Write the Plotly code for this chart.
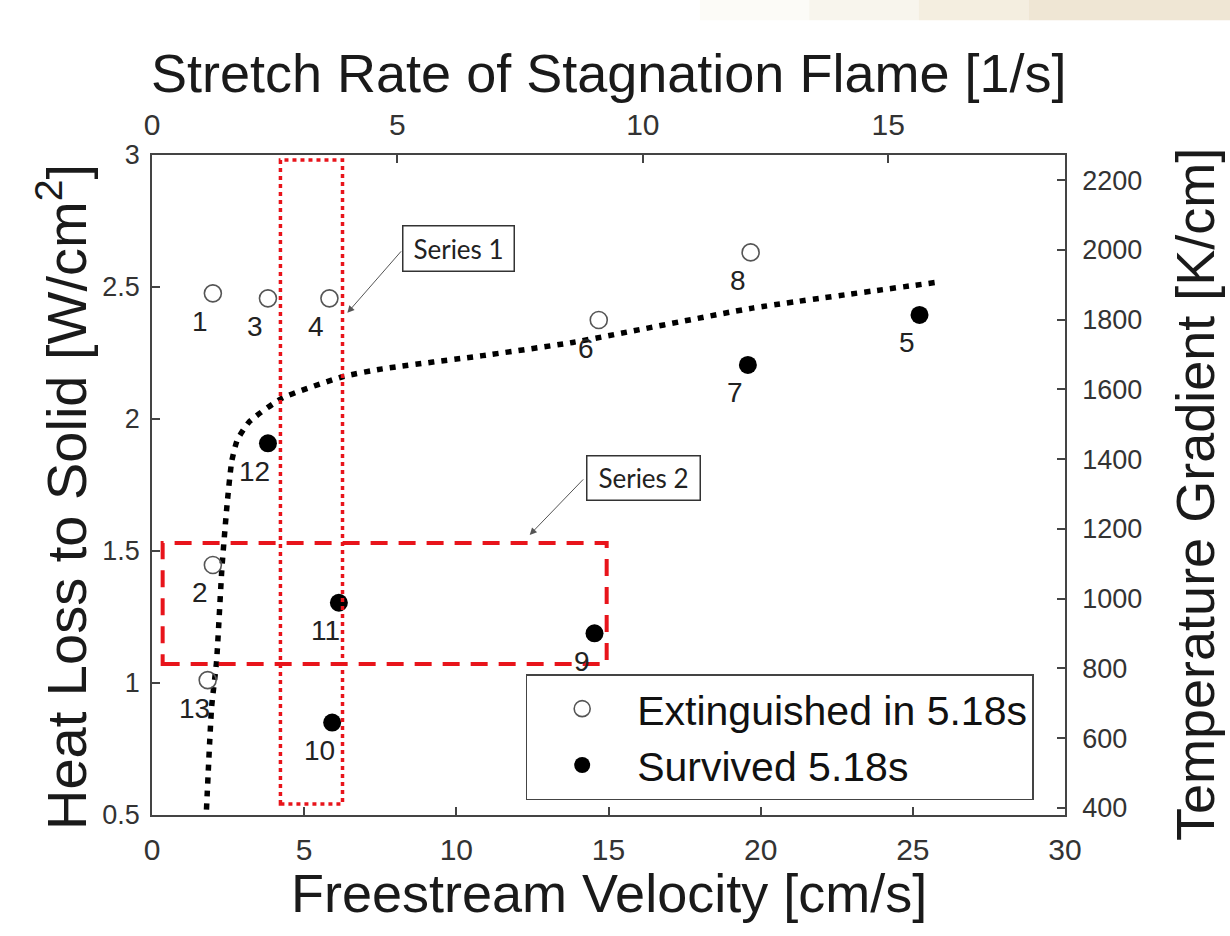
import plotly.graph_objects as go

# ---------------- data ----------------
ext_id = ["1", "2", "3", "4", "6", "8", "13"]
ext_x = [2.00, 2.00, 3.81, 5.83, 14.68, 19.67, 1.83]
ext_y = [2.476, 1.447, 2.457, 2.457, 2.375, 2.631, 1.011]

surv_id = ["5", "7", "9", "10", "11", "12"]
surv_x = [25.22, 19.58, 14.54, 5.92, 6.14, 3.81]
surv_y = [2.394, 2.205, 1.188, 0.850, 1.304, 1.908]

curve_x = [1.79, 1.96, 2.12, 2.30, 2.47, 2.62, 2.80, 3.20, 4.29, 6.26, 7.57, 10.86, 13.82, 19.73, 25.93]
curve_y = [0.52, 0.91, 1.08, 1.44, 1.68, 1.84, 1.92, 1.99, 2.08, 2.16, 2.19, 2.24, 2.29, 2.42, 2.52]

series1_box = dict(x0=4.22, x1=6.26, y0=0.542, y1=2.981)
series2_box = dict(x0=0.35, x1=14.94, y0=1.072, y1=1.530)

x_range = [0, 30]
y_range = [0.5, 3]
x2_range = [0, 18.6]
y2_range = [380, 2272]

FONT = "Liberation Sans, Arial, Helvetica, sans-serif"
AX = "#444444"

fig = go.Figure()

fig.add_trace(go.Scatter(
    x=curve_x, y=curve_y, mode="lines", showlegend=False, hoverinfo="skip",
    line=dict(color="black", width=5.5, dash="6px,7px", shape="spline", smoothing=0.5)))

fig.add_trace(go.Scatter(
    x=ext_x, y=ext_y, mode="markers", name="Extinguished in 5.18s",
    marker=dict(symbol="circle-open", size=17, color="#555555", line=dict(width=1.6))))

fig.add_trace(go.Scatter(
    x=surv_x, y=surv_y, mode="markers", name="Survived 5.18s",
    marker=dict(symbol="circle", size=18, color="black")))

# invisible trace so that the secondary (top / right) axes are drawn
fig.add_trace(go.Scatter(x=[None], y=[None], xaxis="x2", yaxis="y2", mode="markers",
                         showlegend=False, hoverinfo="skip"))

# boxes
fig.add_shape(type="rect", xref="x", yref="y", **series1_box,
              line=dict(color="#e8141b", width=3.5, dash="4px,4px"))
fig.add_shape(type="rect", xref="x", yref="y", **series2_box,
              line=dict(color="#e8141b", width=4, dash="17px,11px"))

# beige decoration strip at top right
for x0, x1, op in [(0.60, 0.72, 0.15), (0.72, 0.84, 0.35), (0.84, 0.96, 0.6), (0.96, 1.19, 0.85)]:
    fig.add_shape(type="rect", xref="paper", yref="paper", x0=x0, x1=x1, y0=1.204, y1=1.24,
                  line=dict(width=0), fillcolor="#ece2cc", opacity=op, layer="below")

annotations = []
# point labels
for ids, xs, ys in [(ext_id, ext_x, ext_y), (surv_id, surv_x, surv_y)]:
    for t, x, y in zip(ids, xs, ys):
        annotations.append(dict(x=x, y=y, xref="x", yref="y", text=t, showarrow=False,
                                xshift=-13, yshift=-28,
                                font=dict(family=FONT, size=28, color="#222222")))

# series labels with arrows
LBL = "Lato, Open Sans, sans-serif"
annotations += [
    dict(x=10.07, y=2.644, xref="x", yref="y", text="Series 1", showarrow=False,
         width=108, height=42, bordercolor="#333333", borderwidth=1.5, borderpad=1,
         bgcolor="white", font=dict(family=LBL, size=26, color="#222222")),
    dict(x=16.15, y=1.778, xref="x", yref="y", text="Series 2", showarrow=False,
         width=110, height=41, bordercolor="#333333", borderwidth=1.5, borderpad=1,
         bgcolor="white", font=dict(family=LBL, size=26, color="#222222")),
    dict(x=6.42, y=2.402, xref="x", yref="y", text="", showarrow=True, ax=55, ay=-63,
         arrowhead=2, arrowsize=1.4, arrowwidth=1, arrowcolor="#555555"),
    dict(x=12.41, y=1.561, xref="x", yref="y", text="", showarrow=True, ax=55, ay=-57,
         arrowhead=2, arrowsize=1.4, arrowwidth=1, arrowcolor="#555555"),
]

# axis titles
TCOL = "#1a1a1a"
annotations += [
    dict(x=0.5, y=1, xref="paper", yref="paper", yshift=82, showarrow=False,
         text="Stretch Rate of Stagnation Flame [1/s]", yanchor="middle",
         font=dict(family=FONT, size=54, color=TCOL)),
    dict(x=0.5, y=0, xref="paper", yref="paper", yshift=-78, showarrow=False,
         text="Freestream Velocity [cm/s]", yanchor="middle",
         font=dict(family=FONT, size=54, color=TCOL)),
    dict(x=0, y=0.5, xref="paper", yref="paper", xshift=-90, yshift=-12, showarrow=False,
         text="Heat Loss to Solid [W/cm<sup>2</sup>]", textangle=-90, xanchor="center",
         font=dict(family=FONT, size=56, color=TCOL)),
    dict(x=1, y=0.5, xref="paper", yref="paper", xshift=130, yshift=-10, showarrow=False,
         text="Temperature Gradient [K/cm]", textangle=-90, xanchor="center",
         font=dict(family=FONT, size=54, color=TCOL)),
]

common = dict(showgrid=False, zeroline=False, showline=True, linecolor=AX, linewidth=1.5,
              ticks="inside", ticklen=8, tickwidth=1.5, tickcolor=AX)

fig.update_layout(
    width=1230, height=936,
    margin=dict(l=152, r=165, t=155, b=121, pad=0),
    paper_bgcolor="white", plot_bgcolor="white",
    font=dict(family=FONT, color="#333333"),
    xaxis=dict(range=x_range, dtick=5, tick0=0, ticklabelstandoff=7,
               tickfont=dict(size=30, color="#333333"), **common),
    yaxis=dict(range=y_range, dtick=0.5, tick0=0.5, ticklabelstandoff=5,
               tickfont=dict(size=27, color="#333333"), **common),
    xaxis2=dict(range=x2_range, dtick=5, tick0=0, overlaying="x", side="top", anchor="y",
                ticklabelstandoff=6, tickfont=dict(size=30, color="#333333"), **common),
    yaxis2=dict(range=y2_range, dtick=200, tick0=400, overlaying="y", side="right", anchor="x",
                ticklabelstandoff=10, tickfont=dict(size=27, color="#333333"), **common),
    legend=dict(x=0.4093, y=0.2136, xanchor="left", yanchor="top",
                bgcolor="white", bordercolor=AX, borderwidth=1.5,
                font=dict(family=FONT, size=41, color="#111111"),
                itemwidth=100),
    annotations=annotations,
    showlegend=True,
)

fig.write_html("out.html")
